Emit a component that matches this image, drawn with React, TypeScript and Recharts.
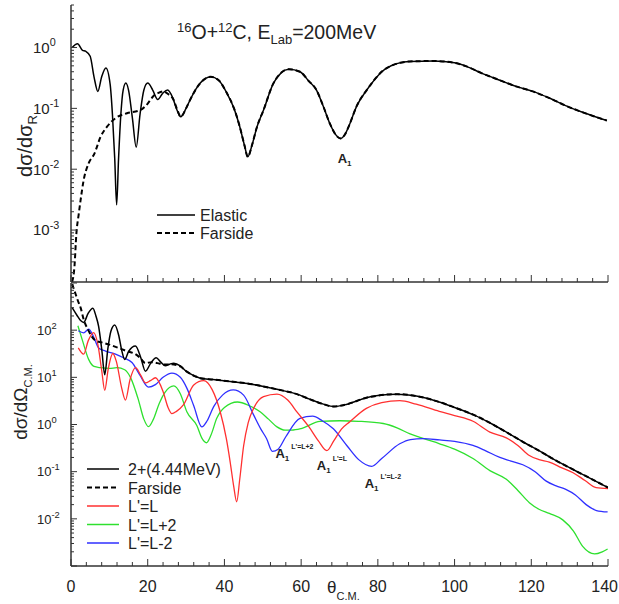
// Two-panel log plot: 16O+12C elastic (top) and 2+ inelastic with L' components (bottom)
import { LineChart, Line, XAxis, YAxis, ReferenceDot } from "recharts";

type Pt = [number, number]; // [theta (deg), cross section]

// ---- top panel: elastic ----
const elasticFront: Pt[] = [
  [0.3, 1.0], [1.7, 1.15], [3.0, 0.9], [3.8, 0.87], [5.0, 0.72], [6.0, 0.33], [7.0, 0.19],
  [8.0, 0.33], [9.1, 0.46], [10.2, 0.25], [10.8, 0.08], [11.4, 0.015], [11.9, 0.0026],
  [12.4, 0.015], [13.0, 0.08], [13.6, 0.2], [14.3, 0.26], [15.0, 0.2], [16.0, 0.07],
  [17.0, 0.023], [18.0, 0.08], [19.0, 0.2], [20.0, 0.26], [21.3, 0.2], [22.6, 0.14],
  [24.0, 0.18], [25.2, 0.2], [26.5, 0.15], [27.6, 0.095], [28.6, 0.073],
];
const farsideFront: Pt[] = [
  [0.3, 1.4e-4], [0.9, 2.5e-4], [1.4, 8.7e-4], [2.0, 0.0018], [2.5, 0.0031], [3.3, 0.0066],
  [4.6, 0.0125], [6.1, 0.018], [7.7, 0.034], [9.4, 0.05], [11.6, 0.069], [14.6, 0.083],
  [18.1, 0.094], [20.0, 0.12], [21.5, 0.16], [22.8, 0.18], [24.1, 0.19], [25.4, 0.17],
  [26.7, 0.14], [27.7, 0.095], [28.6, 0.073],
];
// beyond ~30 deg elastic and farside coincide
const topCommon: Pt[] = [
  [30.0, 0.1], [31.1, 0.14], [33.7, 0.26], [36.4, 0.33], [38.5, 0.29], [40.6, 0.18],
  [42.5, 0.1], [44.0, 0.05], [45.2, 0.025], [46.1, 0.016], [47.2, 0.025], [48.5, 0.05],
  [50.2, 0.094], [52.8, 0.26], [56.8, 0.44], [59.7, 0.4], [62.0, 0.28], [64.0, 0.2],
  [65.8, 0.107], [67.5, 0.056], [69.0, 0.037], [70.3, 0.032], [71.5, 0.038], [72.7, 0.056],
  [74.5, 0.11], [77.1, 0.2], [82.3, 0.46], [88.3, 0.59], [94.5, 0.6], [100, 0.56],
  [103.1, 0.49], [107, 0.38], [111.8, 0.29], [116, 0.23], [120.4, 0.19], [125, 0.145],
  [129.1, 0.11], [133, 0.088], [137.8, 0.069], [139.7, 0.063],
];

// ---- bottom panel: 2+ (4.44 MeV) ----
const inelFront: Pt[] = [
  [0.3, 300], [1.5, 210], [2.5, 160], [3.3, 146], [4.5, 230], [5.7, 293], [6.5, 200],
  [7.2, 120], [8.0, 40], [8.8, 11.4], [9.6, 40], [10.4, 95], [11.4, 128], [12.4, 80],
  [13.3, 35], [14.0, 24], [15.0, 35], [16.8, 46], [18.2, 26], [19.4, 13.5], [20.8, 20],
  [22.2, 26], [23.4, 21], [24.6, 17.5], [25.7, 19], [26.8, 20], [28.5, 17.5],
];
const farBotFront: Pt[] = [
  [0.3, 950], [1.0, 650], [1.8, 420], [2.5, 300], [3.3, 170], [4.5, 100], [6.4, 60],
  [8.0, 55], [9.8, 50], [12.4, 42], [14.5, 36], [16.8, 31], [18.0, 26], [19.4, 20],
  [21.0, 21], [22.5, 20], [24.6, 18.6], [26.0, 19], [28.5, 17],
];
const bottomCommon: Pt[] = [
  [30, 13.5], [32.4, 10.5], [33.7, 9.6], [37, 9], [41.5, 8.2], [46, 7.4], [50.2, 6.4],
  [54, 5.5], [58.9, 4.4], [62, 3.5], [65.8, 2.7], [68.5, 2.4], [72, 2.7], [77, 3.7],
  [80, 4.1], [85, 4.4], [90, 4.0], [96, 3.0], [100, 2.3], [105, 1.6], [110, 1.0],
  [113.5, 0.69], [118, 0.42], [122, 0.28], [126, 0.18], [131, 0.11], [135, 0.075], [140, 0.046],
];
const lEqL: Pt[] = [
  [1.9, 42], [3.3, 31], [4.5, 60], [5.9, 89], [7.0, 50], [8.0, 14], [8.8, 5.3], [9.7, 15],
  [10.9, 32], [11.8, 22], [13.2, 6], [14.2, 3.3], [15.4, 9], [16.8, 16], [18.2, 11],
  [19.4, 7.6], [20.7, 8.5], [22.0, 9.8], [24.0, 5], [25.3, 2.3], [26.3, 1.7], [27.5, 1.9],
  [29.3, 2.6], [32, 6.9], [34.6, 8.5], [36.8, 5.5], [38.9, 1.86], [40.5, 0.5], [41.5, 0.16],
  [42.4, 0.05], [43.2, 0.023], [44.0, 0.07], [45, 0.35], [46.2, 1.1], [47.6, 2.2],
  [50.2, 3.9], [53.7, 4.4], [56.5, 3.3], [59, 1.8], [62, 0.9], [64.5, 0.45], [66.7, 0.28],
  [68.5, 0.45], [70.5, 0.8], [72.7, 1.15], [77, 2.2], [81, 2.9], [85.7, 3.2], [90, 2.7],
  [96, 1.9], [100, 1.55], [104.8, 1.17], [109.2, 0.69], [113.5, 0.52], [116.5, 0.36],
  [119.5, 0.22], [122, 0.18], [124.7, 0.16], [128, 0.12], [130.9, 0.095], [134, 0.065],
  [136.9, 0.046], [140, 0.044],
];
const lPlus2: Pt[] = [
  [1.8, 124], [3.0, 60], [4.6, 24], [6.0, 17], [7.7, 16], [10, 15.5], [12, 16], [14, 14.5],
  [15.5, 10], [17.5, 3.5], [19, 1.3], [20.2, 0.9], [21.5, 1.3], [23, 2.8], [24.5, 4.8],
  [26.8, 6.6], [28.5, 4.5], [30.2, 1.86], [32.8, 0.95], [34.2, 0.5], [35.3, 0.41],
  [36.5, 0.6], [38, 1.35], [40, 2.3], [43.4, 3.0], [46.5, 2.5], [49.3, 1.86], [51.5, 1.3],
  [53.7, 0.89], [55.8, 0.76], [57.5, 0.76], [60, 0.82], [64.9, 1.17], [70.1, 1.2],
  [75, 1.17], [81.4, 1.05], [85, 0.85], [88.4, 0.63], [92, 0.5], [96.1, 0.39], [100, 0.3],
  [104.8, 0.19], [109.2, 0.105], [113.5, 0.069], [116.5, 0.04], [119.5, 0.022], [122, 0.016],
  [124.7, 0.013], [128.2, 0.0095], [131, 0.0055], [133.4, 0.0026], [136.5, 0.0018],
  [138.5, 0.002], [139.9, 0.0023],
];
const lMinus2: Pt[] = [
  [1.9, 97], [3.3, 88], [4.6, 105], [5.8, 75], [7.2, 42], [9, 36], [11.6, 31], [13.7, 26],
  [15.9, 20.6], [18, 11], [20.2, 6.2], [22, 7], [24, 10], [26.3, 12.3], [28.5, 10],
  [30.2, 5.9], [32, 2.5], [34.1, 0.89], [35.5, 1.2], [37.2, 2.4], [39.5, 4.2], [42.3, 5.4],
  [45, 4.2], [47.6, 1.6], [49.5, 0.8], [51, 0.5], [52.5, 0.27], [54, 0.3], [56, 0.55],
  [59.7, 1.35], [63, 1.5], [65.5, 1.2], [68.4, 0.81], [72, 0.35], [75, 0.18], [78.4, 0.13],
  [81, 0.19], [85.7, 0.39], [88.5, 0.48], [91.8, 0.5], [96.1, 0.47], [100, 0.44],
  [104.8, 0.36], [108, 0.28], [111.8, 0.2], [114.5, 0.17], [117.8, 0.14], [121, 0.1],
  [123.9, 0.063], [126.5, 0.05], [129, 0.042], [131.5, 0.032], [134.3, 0.02], [137, 0.015],
  [139.9, 0.014],
];

const X_TICKS = [0, 4, 8, 12, 16, 20, 24, 28, 32, 36, 40, 44, 48, 52, 56, 60, 64, 68, 72, 76,
  80, 84, 88, 92, 96, 100, 104, 108, 112, 116, 120, 124, 128, 132, 136, 140];
const X_LABELS = [0, 20, 40, 60, 80, 100, 120, 140];

const TOP_DOMAIN: [number, number] = [1.4e-4, 5];
const TOP_DECADES = [-4, -3, -2, -1, 0];
const TOP_LABELED = [-3, -2, -1, 0];
const BOT_DOMAIN: [number, number] = [1e-3, 1e3];
const BOT_DECADES = [-3, -2, -1, 0, 1, 2, 3];
const BOT_LABELED = [-2, -1, 0, 1, 2];

const RED = "#ff3030";
const GREEN = "#2ee02e";
const BLUE = "#2f2fff";
const AXIS = "#333";
const FONT = '"Liberation Sans", Arial, Helvetica, sans-serif';

const bottomLegend = [
  { name: "2+(4.44MeV)", color: "#000", dash: "" },
  { name: "Farside", color: "#000", dash: "5 3" },
  { name: "L'=L", color: RED, dash: "" },
  { name: "L'=L+2", color: GREEN, dash: "" },
  { name: "L'=L-2", color: BLUE, dash: "" },
];

const pts = (a: Pt[]) => a.map(([x, y]) => ({ x, y }));

// decade + 2..9 minor ticks inside the domain
function logTicks(decades: number[], dom: [number, number]) {
  const out: number[] = [];
  decades.forEach((d) => {
    for (let m = 1; m <= 9; m++) {
      const v = m * Math.pow(10, d);
      if (v >= dom[0] * 0.999 && v <= dom[1] * 1.001) out.push(v);
    }
  });
  return out;
}

const makeYTick = (labeled: number[], fs: number, lx: number) => (props: any) => {
  const { x, y, payload } = props;
  const lg = Math.log10(payload.value);
  const e = Math.round(lg);
  const major = Math.abs(lg - e) < 1e-6;
  return (
    <g>
      <line x1={x} x2={x + (major ? 6 : 3)} y1={y} y2={y} stroke={AXIS} strokeWidth={1} />
      {major && labeled.includes(e) && (
        <text x={x - lx} y={y + fs * 0.36} fontSize={fs} fill="#222">
          10<tspan dy={-fs * 0.45} fontSize={fs * 0.72}>{e}</tspan>
        </text>
      )}
    </g>
  );
};

const makeXTick = (showLabel: boolean) => (props: any) => {
  const { x, y, payload } = props;
  const v = payload.value;
  const major = X_LABELS.includes(v);
  const last = v === X_LABELS[X_LABELS.length - 1];
  return (
    <g>
      <line x1={x} x2={x} y1={y} y2={y - (major ? 7 : 4)} stroke={AXIS} strokeWidth={1} />
      {showLabel && major && (
        <text x={last ? x + 10 : x} y={y + 26} textAnchor={last ? "end" : "middle"} fontSize={16} fill="#222">{v}</text>
      )}
    </g>
  );
};

function Anno({ cx, cy, dx, dy, sup }: any) {
  return (
    <text x={cx + dx} y={cy + dy} fontSize={13} fontWeight="bold" fill="#222">
      A<tspan fontSize={8} dy={3}>1</tspan>
      {sup ? <tspan fontSize={7} dy={-12} dx={2}>{sup}</tspan> : null}
    </text>
  );
}

const axisLine = { stroke: AXIS, strokeWidth: 1.5 };

export default function App() {
  const elastic = pts([...elasticFront, ...topCommon]);
  const farsideTop = pts([...farsideFront, ...topCommon]);
  const inel = pts([...inelFront, ...bottomCommon]);
  const farBot = pts([...farBotFront, ...bottomCommon]);

  return (
    <div style={{ position: "absolute", left: 0, top: 0, width: 619, height: 604, background: "#fff", fontFamily: FONT }}>
      {/* bottom panel */}
      <div style={{ position: "absolute", left: 0, top: 0 }}>
        <LineChart width={619} height={604} margin={{ top: 283, right: 11, bottom: 0, left: 0 }}>
          <XAxis type="number" dataKey="x" domain={[0, 140]} ticks={X_TICKS} interval={0}
            tick={makeXTick(true)} tickSize={0} tickMargin={0} tickLine={false} height={38}
            axisLine={axisLine} allowDataOverflow />
          <YAxis type="number" scale="log" domain={BOT_DOMAIN} ticks={logTicks(BOT_DECADES, BOT_DOMAIN)}
            interval={0} tick={makeYTick(BOT_LABELED, 13, 34)} tickSize={0} tickMargin={0}
            tickLine={false} width={71} axisLine={axisLine} allowDataOverflow />
          <Line data={pts(lPlus2)} dataKey="y" type="monotone" stroke={GREEN} strokeWidth={1.3} dot={false} isAnimationActive={false} />
          <Line data={pts(lMinus2)} dataKey="y" type="monotone" stroke={BLUE} strokeWidth={1.3} dot={false} isAnimationActive={false} />
          <Line data={pts(lEqL)} dataKey="y" type="monotone" stroke={RED} strokeWidth={1.3} dot={false} isAnimationActive={false} />
          <Line data={inel} dataKey="y" type="monotone" stroke="#000" strokeWidth={1.5} dot={false} isAnimationActive={false} />
          <Line data={farBot} dataKey="y" type="monotone" stroke="#000" strokeWidth={2} strokeDasharray="5 3" dot={false} isAnimationActive={false} />
          <ReferenceDot x={52.5} y={0.27} r={0} shape={(p: any) => <Anno cx={p.cx} cy={p.cy} dx={3} dy={7} sup="L'=L+2" />} />
          <ReferenceDot x={66.7} y={0.28} r={0} shape={(p: any) => <Anno cx={p.cx} cy={p.cy} dx={-10} dy={19} sup="L'=L" />} />
          <ReferenceDot x={78.4} y={0.13} r={0} shape={(p: any) => <Anno cx={p.cx} cy={p.cy} dx={-7} dy={22} sup="L'=L-2" />} />
        </LineChart>
      </div>

      {/* top panel */}
      <div style={{ position: "absolute", left: 0, top: 0 }}>
        <LineChart width={619} height={290} margin={{ top: 5, right: 11, bottom: 0, left: 0 }}>
          <XAxis type="number" dataKey="x" domain={[0, 140]} ticks={X_TICKS} interval={0}
            tick={makeXTick(false)} tickSize={0} tickMargin={0} tickLine={false} height={8}
            axisLine={axisLine} allowDataOverflow />
          <YAxis type="number" scale="log" domain={TOP_DOMAIN} ticks={logTicks(TOP_DECADES, TOP_DOMAIN)}
            interval={0} tick={makeYTick(TOP_LABELED, 15, 38)} tickSize={0} tickMargin={0}
            tickLine={false} width={71} axisLine={axisLine} allowDataOverflow />
          <Line data={elastic} dataKey="y" type="monotone" stroke="#000" strokeWidth={1.5} dot={false} isAnimationActive={false} />
          <Line data={farsideTop} dataKey="y" type="monotone" stroke="#000" strokeWidth={2} strokeDasharray="5 3" dot={false} isAnimationActive={false} />
          <ReferenceDot x={70.3} y={0.032} r={0} shape={(p: any) => <Anno cx={p.cx} cy={p.cy} dx={-3} dy={25} />} />
        </LineChart>
      </div>

      {/* titles, axis labels, legends */}
      <svg width={619} height={604} style={{ position: "absolute", left: 0, top: 0, pointerEvents: "none" }}>
        <text x={177} y={39} fontSize={19.5} fill="#222">
          <tspan fontSize={13} dy={-7}>16</tspan><tspan dy={7}>O+</tspan>
          <tspan fontSize={13} dy={-7}>12</tspan><tspan dy={7}>C, E</tspan>
          <tspan fontSize={13} dy={5}>Lab</tspan><tspan dy={-5}>=200MeV</tspan>
        </text>

        <text transform="translate(32,146) rotate(-90)" textAnchor="middle" fontSize={20} fill="#222">
          dσ/dσ<tspan fontSize={13} dy={5}>R</tspan>
        </text>
        <text transform="translate(27,402) rotate(-90)" textAnchor="middle" fontSize={19} fill="#222">
          dσ/dΩ<tspan fontSize={11} dy={5}>C.M.</tspan>
        </text>

        <text x={327} y={593} fontSize={17} fill="#222">
          θ<tspan fontSize={11} dy={7}>C.M.</tspan>
        </text>

        <line x1={157} x2={195} y1={215} y2={215} stroke="#000" strokeWidth={1.5} />
        <text x={200} y={221} fontSize={16} fill="#222">Elastic</text>
        <line x1={157} x2={195} y1={233} y2={233} stroke="#000" strokeWidth={2} strokeDasharray="5 3" />
        <text x={200} y={239} fontSize={16} fill="#222">Farside</text>

        {bottomLegend.map((l, i) => {
          const y = 469 + i * 18.5;
          return (
            <g key={l.name}>
              <line x1={87} x2={119} y1={y} y2={y} stroke={l.color}
                strokeWidth={l.dash ? 2 : 1.5} strokeDasharray={l.dash || undefined} />
              <text x={128} y={y + 6} fontSize={16} fill="#222">{l.name}</text>
            </g>
          );
        })}
      </svg>
    </div>
  );
}
